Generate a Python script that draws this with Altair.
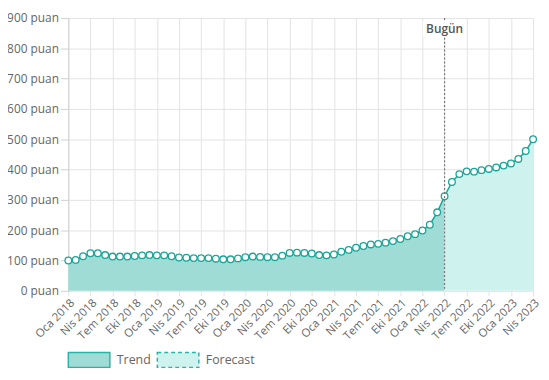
import altair as alt
import pandas as pd

month_names = ["Oca", "Şub", "Mar", "Nis", "May", "Haz", "Tem", "Ağu", "Eyl", "Eki", "Kas", "Ara"]
start_year = 2018
values = [
    100, 102, 114, 124, 124, 118, 113, 113, 113, 115, 117, 118, 117, 117, 114, 110,
    109, 108, 108, 108, 106, 104, 104, 107, 111, 113, 112, 111, 111, 116, 125, 126,
    125, 123, 118, 117, 120, 129, 135, 142, 148, 153, 155, 159, 164, 171, 180, 187,
    199, 218, 259, 312, 359, 385, 394, 393, 398, 402, 407, 413, 420, 435, 461, 500,
]
today_index = 51
series_names = ["Trend", "Forecast"]
series_fills = ["#9edcd5", "#cef2ee"]

idx = list(range(len(values)))
labels = [f"{month_names[i % 12]} {start_year + i // 12}" for i in idx]

df = pd.DataFrame({"i": idx, "v": values, "label": labels})
trend_df = df[df.i <= today_index].assign(series=series_names[0])
fc_df = df[df.i >= today_index].assign(series=series_names[1])

tick_vals = list(range(0, len(values), 3))
label_arr = "[" + ",".join(f"'{labels[i]}'" for i in tick_vals) + "]"

FONT = "Open Sans"
GRAY = "#666666"
LINE = "#1aa596"
SWATCH_STROKE = "#2db3a5"

x = alt.X(
    "i:Q",
    scale=alt.Scale(domain=[0, len(values) - 1], nice=False, zero=False),
    axis=alt.Axis(
        values=tick_vals,
        labelExpr=f"{label_arr}[floor(datum.value/3)]",
        labelAngle=-45,
        labelAlign="right",
        labelBaseline="top",
        labelFontSize=11.5,
        labelColor=GRAY,
        labelFont=FONT,
        labelOverlap=False,
        title=None,
        grid=True,
        gridColor="#e3e3e3",
        domain=False,
        ticks=True,
        tickColor="#e3e3e3",
        tickSize=5,
        labelPadding=1,
    ),
)
y = alt.Y(
    "v:Q",
    stack=None,
    scale=alt.Scale(domain=[0, 900], nice=False),
    axis=alt.Axis(
        values=list(range(0, 1000, 100)),
        labelExpr="datum.value + ' puan'",
        labelFontSize=12,
        labelColor=GRAY,
        labelFont=FONT,
        labelOverlap=False,
        title=None,
        grid=True,
        gridColor="#e3e3e3",
        domainColor="#d0d0d0",
        tickColor="#d0d0d0",
        tickSize=8,
        labelPadding=2,
    ),
)


def make_legend(lx, dash):
    kw = dict(
        title=None,
        orient="none",
        legendX=lx,
        legendY=324,
        direction="horizontal",
        symbolType="M-1,-0.36H1V0.36H-1Z",
        symbolSize=1764,
        symbolStrokeColor=SWATCH_STROKE,
        symbolStrokeWidth=1.5,
        labelFontSize=12.5,
        labelColor=GRAY,
        labelFont=FONT,
        labelOffset=6,
        symbolOpacity=1,
    )
    if dash:
        kw["symbolDash"] = dash
    return alt.Legend(**kw)


trend_area = alt.Chart(trend_df).mark_area(opacity=1).encode(
    x=x,
    y=y,
    fill=alt.Fill(
        "series:N",
        scale=alt.Scale(domain=[series_names[0]], range=[series_fills[0]]),
        legend=make_legend(-1, None),
    ),
)
fc_area = alt.Chart(fc_df).mark_area(opacity=1).encode(
    x=x,
    y=y,
    fill=alt.Fill(
        "series:N",
        scale=alt.Scale(domain=[series_names[1]], range=[series_fills[1]]),
        legend=make_legend(89, [4, 3]),
    ),
)

line = alt.Chart(df).mark_line(color=LINE, strokeWidth=1.5).encode(x=x, y=y)
points = alt.Chart(df).mark_point(
    filled=True, fill="white", stroke=LINE, strokeWidth=1.3, size=45, opacity=1
).encode(x=x, y=y)

today_df = pd.DataFrame({"i": [today_index], "t": ["Bugün"]})
rule = alt.Chart(today_df).mark_rule(
    color="#777777", strokeDash=[2, 2], strokeWidth=1.2
).encode(x=x)
box = alt.Chart(today_df).mark_rect(fill="white", width=44, height=16).encode(
    x=x, y=alt.value(11)
)
txt = alt.Chart(today_df).mark_text(
    font=FONT, fontSize=12, color="#555555", fontWeight=600, baseline="middle"
).encode(x=x, y=alt.value(11), text="t:N")

chart = (
    alt.layer(trend_area, fc_area, line, points, rule, box, txt)
    .resolve_scale(fill="independent")
    .resolve_legend(fill="independent")
    .properties(
        width=470,
        height=276,
        padding={"left": 61, "top": 8, "right": 8, "bottom": 76},
        autosize=alt.AutoSizeParams(type="none"),
    )
    .configure_view(stroke=None)
)

chart.save("out.html", embed_options={"renderer": "svg", "actions": False})
